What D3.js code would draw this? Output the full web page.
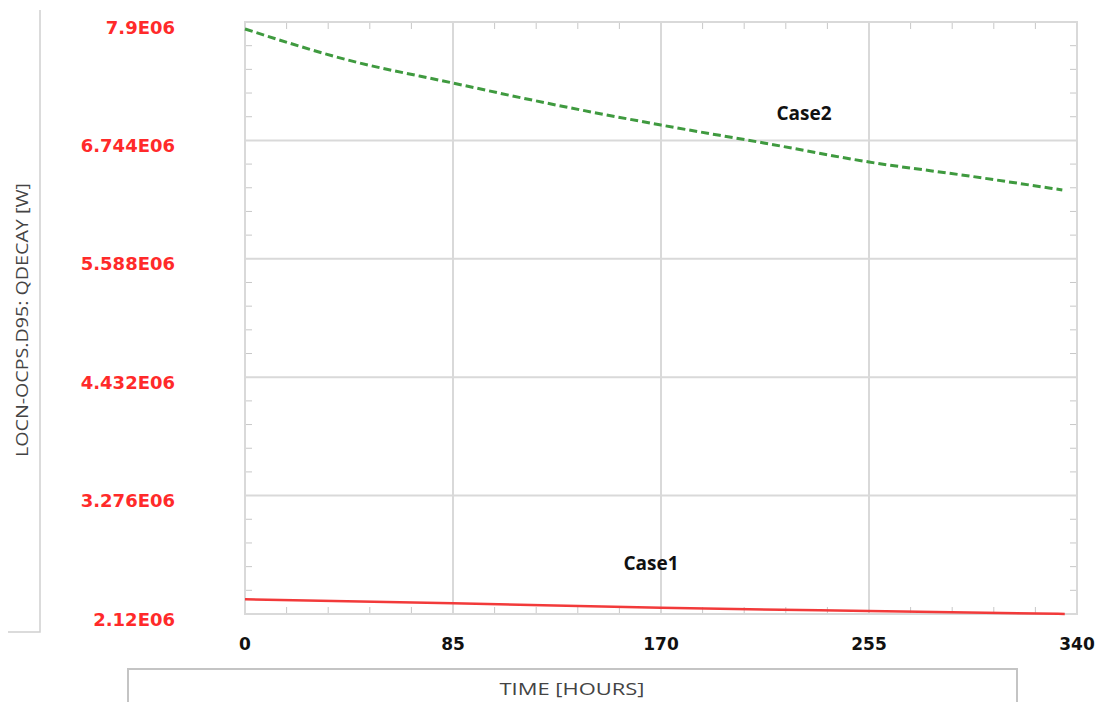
<!doctype html>
<html lang="en">
<head>
	<meta charset="utf-8">
	<title>QDECAY</title>
	<script type="text/javascript" src="https://d3js.org/d3.v7.min.js"></script>
	<style>
		body { margin: 0; background: #fff; }
		svg { display: block; }
	</style>
</head>
<body>
	<script type="text/javascript">
		// data
		var case1Hours = [0, 85, 170, 255, 335];
		var case1Values = [2.263e6, 2.224e6, 2.18e6, 2.149e6, 2.121e6];
		var case2Hours = [0, 42, 85, 127, 170, 212, 255, 296, 334];
		var case2Values = [7.832e6, 7.529e6, 7.304e6, 7.09e6, 6.894e6, 6.719e6, 6.533e6, 6.396e6, 6.26e6];
		var xTicks = [0, 85, 170, 255, 340];
		var yTicks = [2.12e6, 3.276e6, 4.432e6, 5.588e6, 6.744e6, 7.9e6];
		var yTickLabels = ["2.12E06", "3.276E06", "4.432E06", "5.588E06", "6.744E06", "7.9E06"];
		var seriesNames = ["Case1", "Case2"];

		var width = 1103;
		var height = 702;
		// plot box (note: "top" is reserved on window, so use other names)
		var plotLeft = 245, plotRight = 1077, plotTop = 22, plotBottom = 614;

		var svg = d3.select("body").append("svg")
			.attr("width", width)
			.attr("height", height);

		var x = d3.scaleLinear().domain([0, 340]).range([plotLeft, plotRight]);
		var y = d3.scaleLinear().domain([2.12e6, 7.9e6]).range([plotBottom, plotTop]);

		var gridColor = "#d9d9d9";

		// left decoration line of the y title panel
		svg.append("path")
			.attr("d", "M40,10 L40,632 L8,632")
			.attr("fill", "none")
			.attr("stroke", "#d0d0d0")
			.attr("stroke-width", 1.5);

		// minor ticks (5 per major interval)
		var xMinor = d3.range(0, 341, 17).filter(function(d) { return d % 85 != 0; });
		var yStep = (7.9e6 - 2.12e6) / 25;
		var yMinor = d3.range(1, 25).filter(function(i) { return i % 5 != 0; }).map(function(i) { return 2.12e6 + i * yStep; });
		var tickLen = 7;
		var minor = svg.append("g").attr("stroke", "#c8c8c8").attr("stroke-width", 1);
		xMinor.forEach(function(d) {
			minor.append("line").attr("x1", x(d)).attr("x2", x(d)).attr("y1", plotBottom).attr("y2", plotBottom - tickLen);
			minor.append("line").attr("x1", x(d)).attr("x2", x(d)).attr("y1", plotTop).attr("y2", plotTop + tickLen);
		});
		yMinor.forEach(function(d) {
			minor.append("line").attr("y1", y(d)).attr("y2", y(d)).attr("x1", plotLeft).attr("x2", plotLeft + tickLen);
			minor.append("line").attr("y1", y(d)).attr("y2", y(d)).attr("x1", plotRight).attr("x2", plotRight - tickLen);
		});

		// grid lines
		svg.append("g").selectAll("line")
			.data(xTicks.slice(1, -1))
			.enter().append("line")
			.attr("x1", function(d) { return x(d); })
			.attr("x2", function(d) { return x(d); })
			.attr("y1", plotTop).attr("y2", plotBottom)
			.attr("stroke", gridColor).attr("stroke-width", 2);
		svg.append("g").selectAll("line")
			.data(yTicks.slice(1, -1))
			.enter().append("line")
			.attr("y1", function(d) { return y(d); })
			.attr("y2", function(d) { return y(d); })
			.attr("x1", plotLeft).attr("x2", plotRight)
			.attr("stroke", gridColor).attr("stroke-width", 2);

		// plot frame
		svg.append("rect")
			.attr("x", plotLeft).attr("y", plotTop)
			.attr("width", plotRight - plotLeft).attr("height", plotBottom - plotTop)
			.attr("fill", "none")
			.attr("stroke", gridColor).attr("stroke-width", 2);

		// y tick labels
		svg.append("g").selectAll("text")
			.data(yTicks)
			.enter().append("text")
			.attr("x", 175)
			.attr("y", function(d) { return y(d) + 11.5; })
			.attr("text-anchor", "end")
			.style("font-family", "'DejaVu Sans', sans-serif")
			.style("font-weight", "bold")
			.style("font-size", "18px")
			.style("fill", "#ff2a2a")
			.text(function(d, i) { return yTickLabels[i]; });

		// x tick labels
		svg.append("g").selectAll("text")
			.data(xTicks)
			.enter().append("text")
			.attr("x", function(d) { return x(d); })
			.attr("y", 650)
			.attr("text-anchor", "middle")
			.style("font-family", "'DejaVu Sans', sans-serif")
			.style("font-weight", "bold")
			.style("font-size", "17px")
			.style("fill", "#111")
			.text(function(d) { return d; });

		// series
		var line = d3.line()
			.x(function(d) { return x(d[0]); })
			.y(function(d) { return y(d[1]); })
			.curve(d3.curveMonotoneX);

		svg.append("path")
			.datum(case1Hours.map(function(h, i) { return [h, case1Values[i]]; }))
			.attr("d", line)
			.attr("fill", "none")
			.attr("stroke", "#f23a3a")
			.attr("stroke-width", 2.5);

		svg.append("path")
			.datum(case2Hours.map(function(h, i) { return [h, case2Values[i]]; }))
			.attr("d", line)
			.attr("fill", "none")
			.attr("stroke", "#3f9a3f")
			.attr("stroke-width", 3)
			.attr("stroke-dasharray", "8,4");

		// series labels
		var labelPos = [[651, 570], [804, 120]];
		svg.append("g").selectAll("text")
			.data(seriesNames)
			.enter().append("text")
			.attr("x", function(d, i) { return labelPos[i][0]; })
			.attr("y", function(d, i) { return labelPos[i][1]; })
			.attr("text-anchor", "middle")
			.style("font-family", "'Open Sans', sans-serif")
			.style("font-weight", "bold")
			.style("font-size", "19px")
			.style("fill", "#111")
			.text(function(d) { return d; });

		// y axis title
		svg.append("text")
			.attr("transform", "translate(28,320) rotate(-90)")
			.attr("text-anchor", "middle")
			.attr("textLength", 274)
			.attr("lengthAdjust", "spacingAndGlyphs")
			.style("font-family", "'Open Sans', sans-serif")
			.style("font-size", "16px")
			.style("fill", "#444")
			.text("LOCN-OCPS.D95: QDECAY [W]");

		// x axis title box
		svg.append("rect")
			.attr("x", 128).attr("y", 669)
			.attr("width", 889).attr("height", 60)
			.attr("fill", "#fff")
			.attr("stroke", "#c4c4c4").attr("stroke-width", 2);

		svg.append("text")
			.attr("x", 572)
			.attr("y", 695)
			.attr("text-anchor", "middle")
			.attr("textLength", 145)
			.attr("lengthAdjust", "spacingAndGlyphs")
			.style("font-family", "'Open Sans', sans-serif")
			.style("font-size", "17px")
			.style("fill", "#444")
			.text("TIME [HOURS]");
	</script>
</body>
</html>
